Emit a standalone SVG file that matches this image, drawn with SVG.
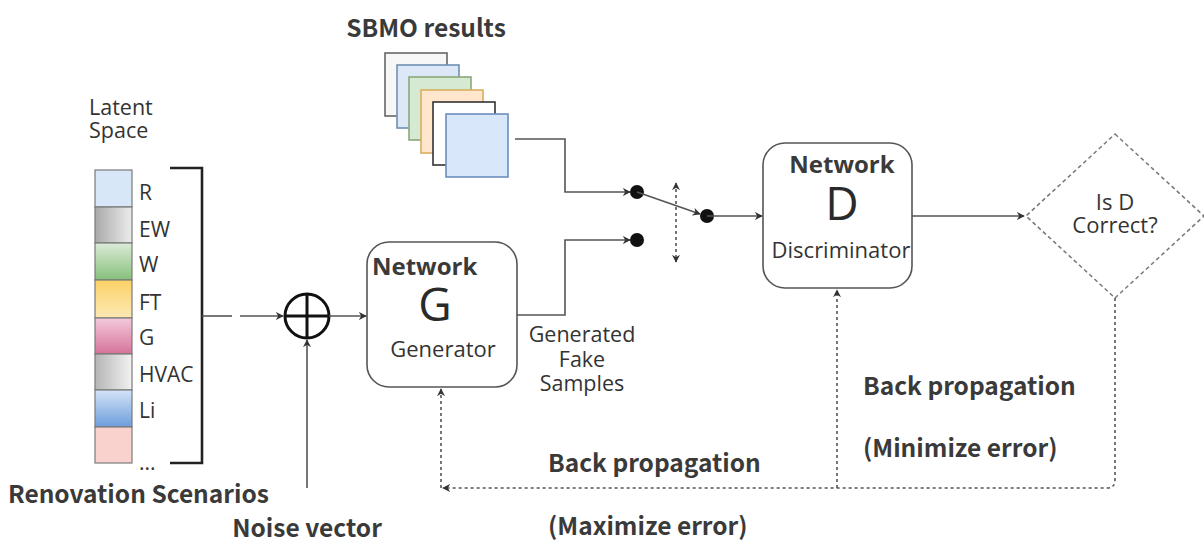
<svg xmlns="http://www.w3.org/2000/svg" width="1204" height="550" viewBox="0 0 1204 550">
  <style>
    .txt { font-family: "Open Sans", "Liberation Sans", sans-serif; fill: #333; }
    .lbl { font-size: 21px; }
    .bold { font-family: "Noto Sans CJK KR", "Open Sans", sans-serif; font-weight: 700; font-size: 24.5px; fill: #3a3a3a; }
    .net { font-family: "Open Sans", "Liberation Sans", sans-serif; font-weight: 700; font-size: 24px; fill: #3a3a3a; }
    .big { font-family: "Open Sans", "Liberation Sans", sans-serif; font-size: 46px; fill: #2a2a2a; }
    .cell { stroke: #7a7a7a; stroke-width: 1.2; }
    .sq { stroke-width: 1.6; }
    .wire { fill: none; stroke: #555; stroke-width: 1.6; }
    .dot { fill: none; stroke: #555; stroke-width: 1.6; stroke-dasharray: 3 3; }
    .box { fill: #fff; stroke: #555; stroke-width: 1.6; }
  </style>
  <defs>
    <marker id="arr" viewBox="0 0 10 10" refX="9" refY="5" markerWidth="8" markerHeight="8" markerUnits="userSpaceOnUse" orient="auto-start-reverse">
      <path d="M0,0 L10,5 L0,10 L3,5 z" fill="#333"/>
    </marker>
    <linearGradient id="gEW" x1="0" y1="0" x2="1" y2="0">
      <stop offset="0" stop-color="#a9a9a9"/><stop offset="1" stop-color="#ececec"/>
    </linearGradient>
    <linearGradient id="gW" x1="0" y1="0" x2="0" y2="1">
      <stop offset="0" stop-color="#dcebd8"/><stop offset="1" stop-color="#86c07a"/>
    </linearGradient>
    <linearGradient id="gFT" x1="0" y1="0" x2="0" y2="1">
      <stop offset="0" stop-color="#fbd166"/><stop offset="1" stop-color="#fde9b4"/>
    </linearGradient>
    <linearGradient id="gG" x1="0" y1="0" x2="0" y2="1">
      <stop offset="0" stop-color="#f4cadb"/><stop offset="1" stop-color="#d6729a"/>
    </linearGradient>
    <linearGradient id="gHV" x1="0" y1="0" x2="1" y2="0">
      <stop offset="0" stop-color="#b5b5b5"/><stop offset="1" stop-color="#f2f2f2"/>
    </linearGradient>
    <linearGradient id="gLi" x1="0" y1="0" x2="0" y2="1">
      <stop offset="0" stop-color="#d4e4f8"/><stop offset="1" stop-color="#6d9ddb"/>
    </linearGradient>
  </defs>

  <!-- latent space vector -->
  <g id="latent-space">
    <text class="txt" x="89" y="115" font-size="21.5">Latent</text>
    <text class="txt" x="89" y="138" font-size="21.5">Space</text>
    <rect class="cell" x="95" y="170" width="37" height="37" fill="#d8e7f8"/>
    <rect class="cell" x="95" y="207" width="37" height="36" fill="url(#gEW)"/>
    <rect class="cell" x="95" y="243" width="37" height="37" fill="url(#gW)"/>
    <rect class="cell" x="95" y="280" width="37" height="38" fill="url(#gFT)"/>
    <rect class="cell" x="95" y="318" width="37" height="36" fill="url(#gG)"/>
    <rect class="cell" x="95" y="354" width="37" height="36" fill="url(#gHV)"/>
    <rect class="cell" x="95" y="390" width="37" height="37" fill="url(#gLi)"/>
    <rect class="cell" x="95" y="427" width="37" height="36" fill="#fad2cd"/>
    <text class="txt lbl" x="139" y="200">R</text>
    <text class="txt lbl" x="139" y="237">EW</text>
    <text class="txt lbl" x="139" y="272">W</text>
    <text class="txt lbl" x="139" y="310">FT</text>
    <text class="txt lbl" x="139" y="345">G</text>
    <text class="txt lbl" x="139" y="382">HVAC</text>
    <text class="txt lbl" x="139" y="418">Li</text>
    <text class="txt lbl" x="139" y="470">...</text>
    <path d="M170,168 H202 V463 H170" fill="none" stroke="#222" stroke-width="2.6"/>
    <text class="bold" x="8" y="503">Renovation Scenarios</text>
  </g>

  <!-- noise addition -->
  <g id="adder">
    <circle cx="307" cy="316" r="22" fill="#fff" stroke="#111" stroke-width="3"/>
    <path d="M285,316 H329 M307,294 V338" stroke="#111" stroke-width="3"/>
    <text class="bold" x="307" y="537" text-anchor="middle">Noise vector</text>
  </g>

  <!-- SBMO result stack -->
  <g id="sbmo">
    <text class="bold" x="426" y="37" text-anchor="middle">SBMO results</text>
    <rect class="sq" x="385" y="53" width="62" height="63" fill="#f7f7f7" stroke="#666"/>
    <rect class="sq" x="397" y="65" width="62" height="63" fill="#dce8f7" stroke="#6f8fb5"/>
    <rect class="sq" x="409" y="77" width="62" height="63" fill="#d6e9d2" stroke="#8aa97a"/>
    <rect class="sq" x="421" y="90" width="62" height="63" fill="#ffe6cc" stroke="#d8b060"/>
    <rect class="sq" x="433" y="102" width="62" height="63" fill="#ffffff" stroke="#333"/>
    <rect class="sq" x="446" y="114" width="62" height="63" fill="#d9e7fa" stroke="#6c8ebf"/>
  </g>

  <!-- generator -->
  <g id="generator">
    <rect class="box" x="367" y="242" width="150" height="145" rx="22"/>
    <text class="net" x="372" y="275">Network</text>
    <text class="big" x="435" y="321" text-anchor="middle">G</text>
    <text class="txt" x="443" y="357" font-size="22" text-anchor="middle">Generator</text>
  </g>
  <g id="fake-label">
    <text class="txt" x="582" y="342" font-size="21.5" text-anchor="middle">Generated</text>
    <text class="txt" x="582" y="367" font-size="21.5" text-anchor="middle">Fake</text>
    <text class="txt" x="582" y="391" font-size="21.5" text-anchor="middle">Samples</text>
  </g>

  <!-- discriminator -->
  <g id="discriminator">
    <rect class="box" x="763" y="143" width="149" height="145" rx="22"/>
    <text class="net" x="842" y="173" text-anchor="middle">Network</text>
    <text class="big" x="842" y="220" text-anchor="middle">D</text>
    <text class="txt" x="841" y="258" font-size="22" text-anchor="middle">Discriminator</text>
  </g>

  <!-- decision -->
  <g id="decision">
    <path d="M1115,134 L1204,216 L1115,298 L1026,216 Z" fill="#fff" stroke="#777" stroke-width="1.5" stroke-dasharray="4 3"/>
    <text class="txt" x="1115" y="210" font-size="22" text-anchor="middle">Is D</text>
    <text class="txt" x="1115" y="233" font-size="22" text-anchor="middle">Correct?</text>
  </g>

  <!-- back propagation labels -->
  <g id="bp-labels">
    <text class="bold" x="863" y="395">Back propagation</text>
    <text class="bold" x="863" y="457">(Minimize error)</text>
    <text class="bold" x="548" y="472">Back propagation</text>
    <text class="bold" x="548" y="535">(Maximize error)</text>
  </g>

  <!-- connectors -->
  <g id="connectors">
    <path class="wire" d="M202,316 H232"/>
    <path class="wire" d="M240,316 H283" marker-end="url(#arr)"/>
    <path class="wire" d="M307,488 V340" marker-end="url(#arr)"/>
    <path class="wire" d="M329,316 H366" marker-end="url(#arr)"/>
    <path class="wire" d="M517,315 H565 V240 H630" marker-end="url(#arr)"/>
    <path class="wire" d="M515,139 H565 V192 H630" marker-end="url(#arr)"/>
    <circle cx="637" cy="192" r="7" fill="#111"/>
    <circle cx="637" cy="240" r="7" fill="#111"/>
    <path class="wire" d="M637,192 L700,214" marker-end="url(#arr)"/>
    <circle cx="707" cy="216" r="7" fill="#111"/>
    <path class="wire" d="M707,216 H762" marker-end="url(#arr)"/>
    <path class="dot" d="M676,183 V262" marker-start="url(#arr)" marker-end="url(#arr)"/>
    <path class="wire" d="M912,216 H1024" marker-end="url(#arr)"/>
    <path class="dot" d="M1115,298 V480 Q1115,488 1107,488 H443" marker-end="url(#arr)"/>
    <path class="dot" d="M441,488 V389" marker-end="url(#arr)"/>
    <path class="dot" d="M837,488 V290" marker-end="url(#arr)"/>
  </g>
</svg>
